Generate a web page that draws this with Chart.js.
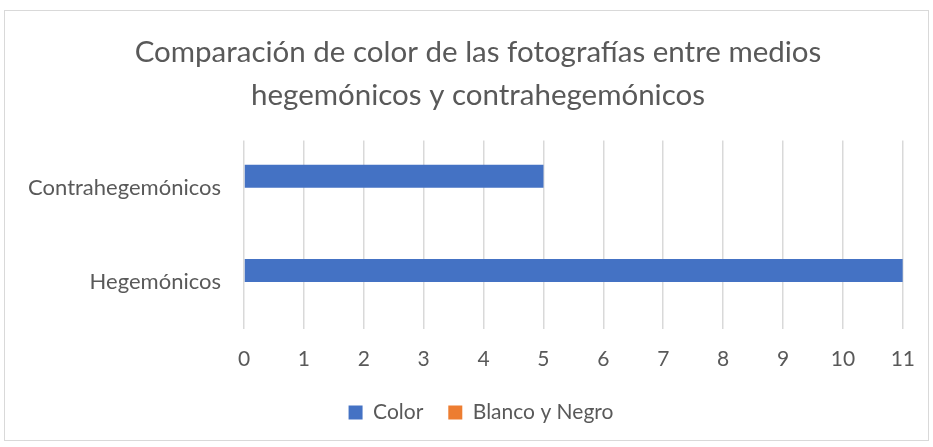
<!DOCTYPE html>
<html>
<head>
<meta charset="utf-8">
<script src="https://cdn.jsdelivr.net/npm/chart.js@4.4.0/dist/chart.umd.min.js"></script>
<style>
  body { margin: 0; background: #fff; }
  #wrap { position: relative; width: 933px; height: 447px; }
  #frame { position: absolute; left: 4px; top: 10px; width: 923px; height: 429px; border: 1px solid #d9d9d9; pointer-events: none; }
</style>
</head>
<body>
<div id="wrap">
  <canvas id="myChart" width="933" height="447"></canvas>
  <div id="frame"></div>
</div>
<script>
// categories and series
const categories = ["Contrahegemónicos", "Hegemónicos"];
const colorValues = [5, 11];
const blancoNegroValues = [0, 0];
const xTickMax = 11;

const FONT = "Lato, 'Open Sans', sans-serif";
const GREY = "#595959";

// nudge title and legend like the original (both sit a bit right of page center)
const shiftBlocks = {
  id: "shiftBlocks",
  afterLayout(chart) {
    if (chart.titleBlock) {
      chart.titleBlock.left = 30;
      chart.titleBlock.right = 926;
    }
    if (chart.legend) {
      chart.legend.left = 36;
      chart.legend.right = 926;
      chart.legend.top = 377;
      chart.legend.bottom = chart.legend.top + chart.legend.height;
    }
  }
};

const data = {
  labels: categories,
  datasets: [
    {
      label: "Color",
      data: colorValues,
      backgroundColor: "#4472C4",
      borderWidth: 0,
      categoryPercentage: 0.486,
      barPercentage: 1.0,
    },
    {
      label: "Blanco y Negro",
      data: blancoNegroValues,
      backgroundColor: "#ED7D31",
      borderWidth: 0,
      categoryPercentage: 0.486,
      barPercentage: 1.0,
    },
  ],
};

const config = {
  type: "bar",
  data: data,
  plugins: [shiftBlocks],
  options: {
    indexAxis: "y",
    responsive: false,
    animation: false,
    layout: { padding: { top: 10, left: 4, right: 28, bottom: 0 } },
    plugins: {
      title: {
        display: true,
        text: ["Comparación de color de las fotografías entre medios", "hegemónicos y contrahegemónicos"],
        color: GREY,
        font: { family: FONT, size: 29.5, weight: "normal", lineHeight: 1.45 },
        padding: { top: 21, bottom: 24 },
      },
      legend: {
        position: "bottom",
        labels: {
          color: GREY,
          font: { family: FONT, size: 21 },
          boxWidth: 14,
          boxHeight: 14,
          padding: 25,
        },
      },
      tooltip: { enabled: false },
    },
    scales: {
      x: {
        min: 0,
        max: xTickMax,
        ticks: { stepSize: 1, color: GREY, font: { family: FONT, size: 21 }, padding: 18 },
        grid: { color: "#d9d9d9", drawTicks: false, lineWidth: 1.5 },
        border: { display: false },
        afterFit(scale) { scale.height = 62; },
      },
      y: {
        ticks: { color: GREY, font: { family: FONT, size: 22 }, padding: 23 },
        grid: { display: false, drawTicks: false },
        border: { display: false },
        afterFit(scale) { scale.width = 240; },
      },
    },
  },
};

const ctx = document.getElementById("myChart");
const myChart = new Chart(ctx, config);
</script>
</body>
</html>
